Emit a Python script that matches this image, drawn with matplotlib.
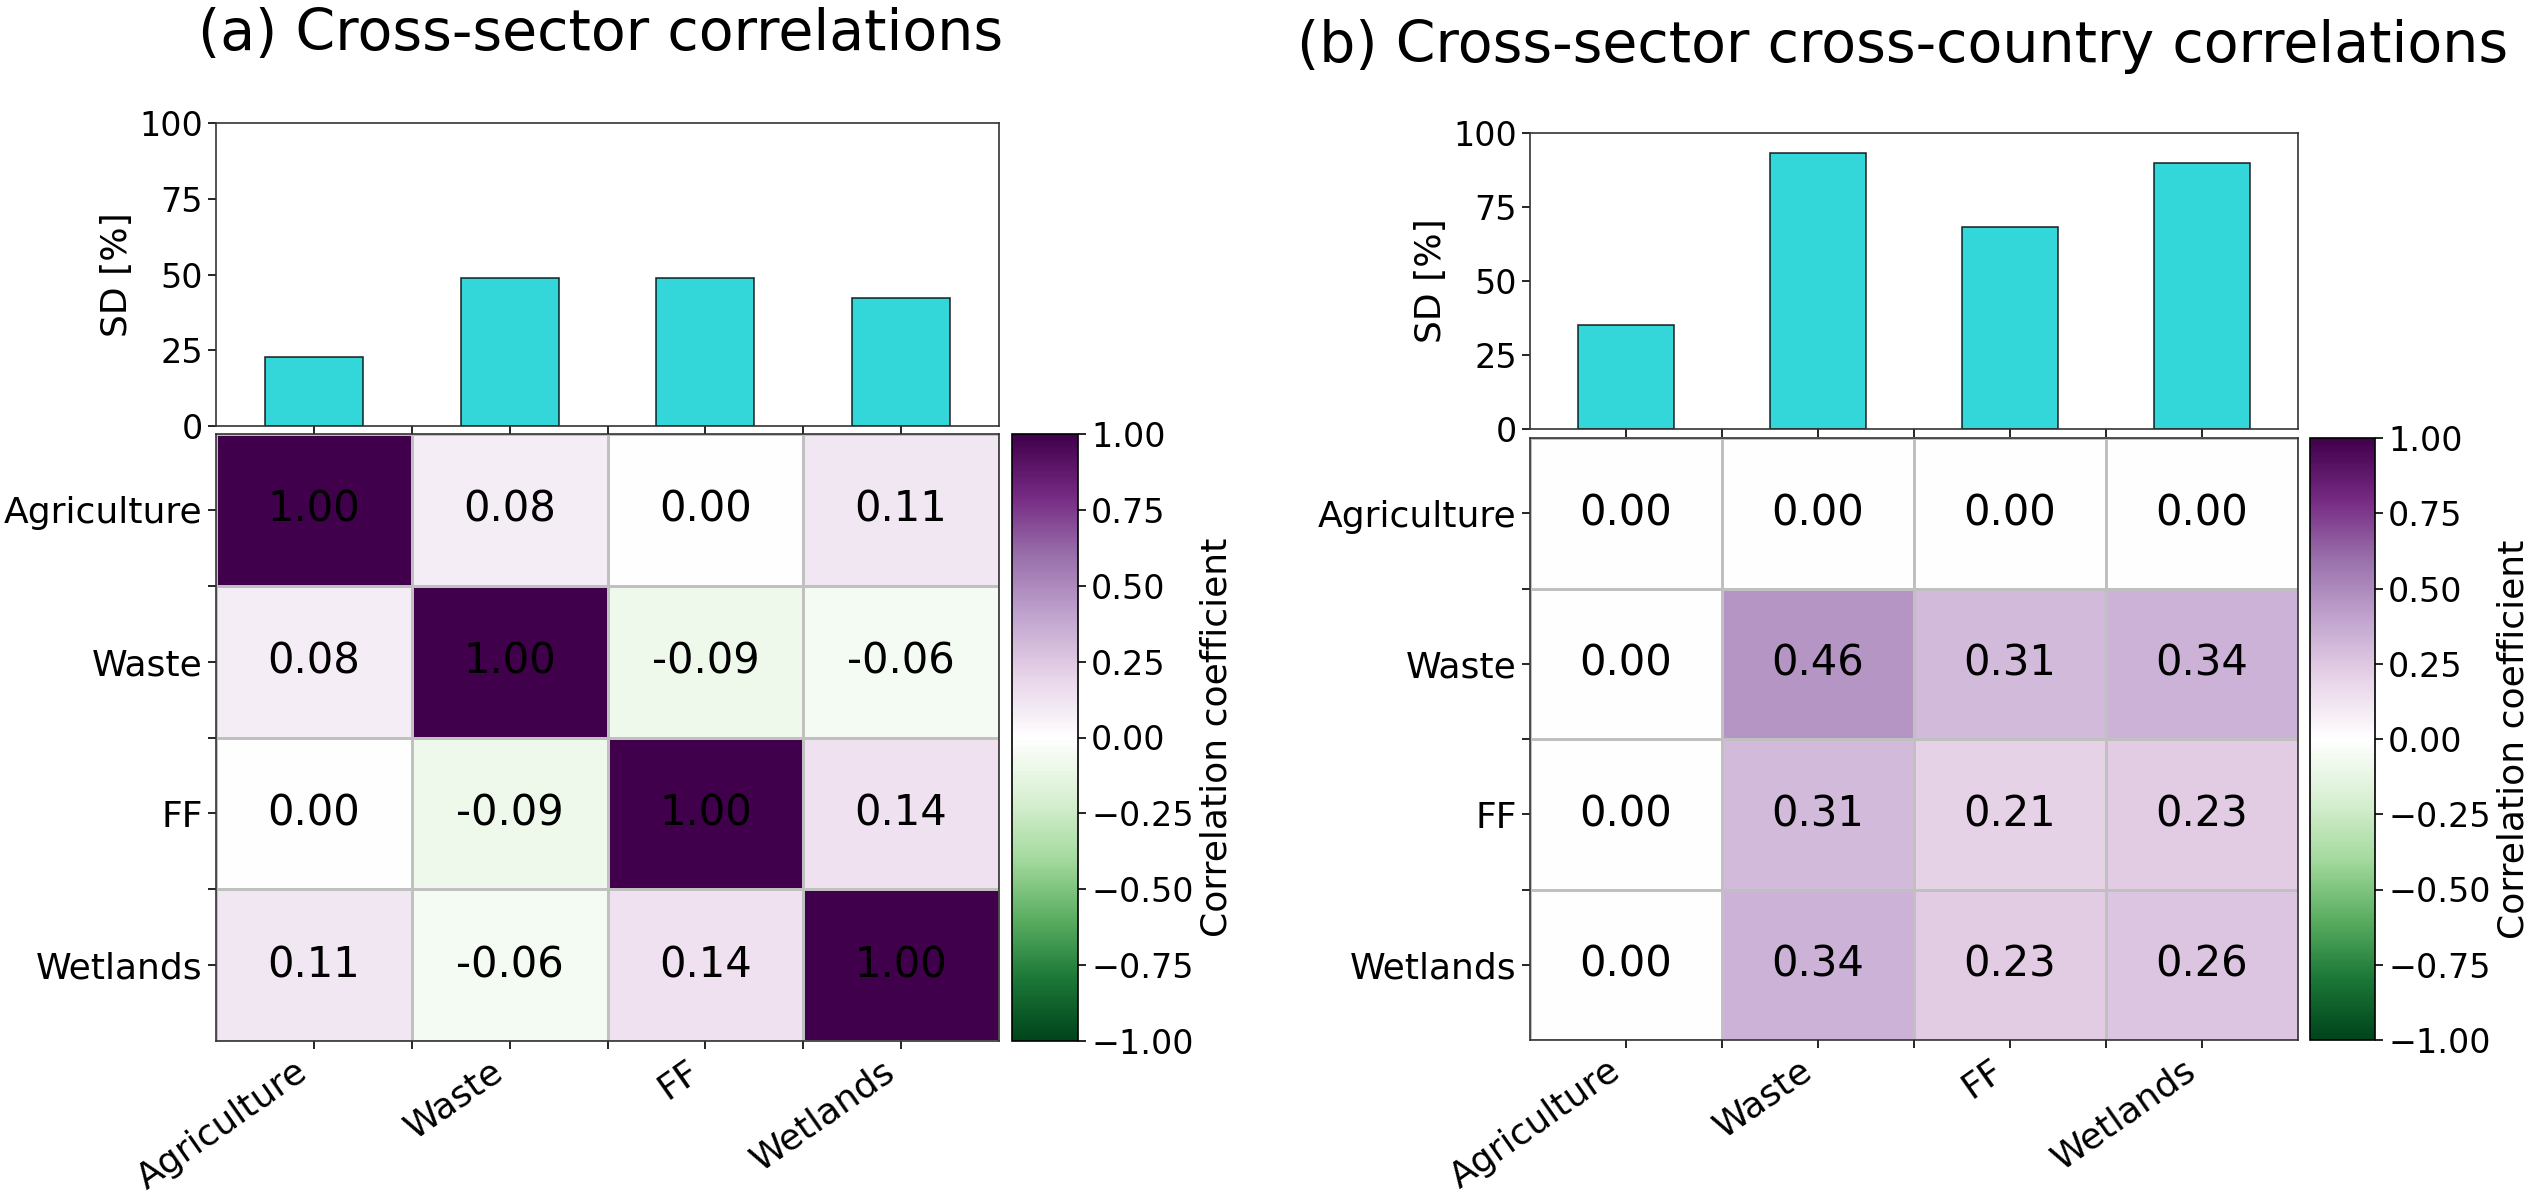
import matplotlib
matplotlib.use("Agg")

import matplotlib.pyplot as plt
import numpy as np
from matplotlib.colors import LinearSegmentedColormap

sectors = ["Agriculture", "Waste", "FF", "Wetlands"]

# SD per sector [%]
sd_within = [22.8, 49.0, 48.7, 42.1]
sd_cross = [35.2, 93.4, 68.3, 89.7]

# correlation matrices
corr_within = np.array([
    [1.00, 0.08, 0.00, 0.11],
    [0.08, 1.00, -0.09, -0.06],
    [0.00, -0.09, 1.00, 0.14],
    [0.11, -0.06, 0.14, 1.00],
])
corr_cross = np.array([
    [0.00, 0.00, 0.00, 0.00],
    [0.00, 0.46, 0.31, 0.34],
    [0.00, 0.31, 0.21, 0.23],
    [0.00, 0.34, 0.23, 0.26],
])

titles = ["(a) Cross-sector correlations", "(b) Cross-sector cross-country correlations"]

plt.rcParams["font.family"] = ["DejaVu Sans"]

# PRGn reversed, with a pure white centre
base = plt.get_cmap("PRGn_r")(np.linspace(0, 1, 11))
base[5] = [1, 1, 1, 1]
cmap = LinearSegmentedColormap.from_list("prgn_white", base)

W, H = 2533, 1196
fig = plt.figure(figsize=(W / 100, H / 100), dpi=100)


def px(left, top, right, bottom):
    """pixel box -> figure fraction rect"""
    return [left / W, 1 - bottom / H, (right - left) / W, (bottom - top) / H]


panels = [
    dict(bar=px(216, 123, 999, 426), heat=px(216, 434, 999, 1041), cbar=px(1012, 434, 1078, 1041),
         title_xy=(0.237, 1 - 50 / H)),
    dict(bar=px(1530, 133, 2298, 429), heat=px(1530, 438, 2298, 1040), cbar=px(2310, 438, 2375, 1040),
         title_xy=(0.751, 1 - 62 / H)),
]

n = len(sectors)
centers = np.arange(n) + 0.5
tick_fs = 24
heat_tick_fs = 26
label_fs = 26

for p, sd, corr, title in zip(panels, [sd_within, sd_cross], [corr_within, corr_cross], titles):
    # bar plot of SD on top
    ax_bar = fig.add_axes(p["bar"])
    ax_bar.bar(centers, sd, width=0.5, color="darkturquoise", alpha=0.8, edgecolor="black", linewidth=1.2)
    ax_bar.set_xlim(0, n)
    ax_bar.set_ylim(0, 100)
    ax_bar.set_yticks([0, 25, 50, 75, 100])
    ax_bar.set_xticks(np.arange(0.5, n, 0.5))
    ax_bar.set_xticklabels([])
    ax_bar.set_ylabel("SD [%]", fontsize=label_fs)
    ax_bar.tick_params(labelsize=tick_fs, length=6, width=1.2)
    for s in ax_bar.spines.values():
        s.set_linewidth(1.2)
        s.set_color("#333333")

    # correlation heatmap
    ax = fig.add_axes(p["heat"])
    mesh = ax.pcolormesh(corr, cmap=cmap, vmin=-1, vmax=1, edgecolors="silver", linewidth=1)
    ax.set_xlim(0, n)
    ax.set_ylim(n, 0)
    for i in range(n):
        for j in range(n):
            ax.text(j + 0.5, i + 0.5, f"{corr[i, j]:.2f}", ha="center", va="center", fontsize=30, color="black")
    ax.set_xticks(centers)
    ax.set_xticklabels(sectors, rotation=35, ha="right")
    ax.set_yticks(centers)
    ax.set_yticklabels(sectors)
    ax.set_xticks(np.arange(1, n), minor=True)
    ax.set_yticks(np.arange(1, n), minor=True)
    ax.tick_params(labelsize=heat_tick_fs, length=6, width=1.2)
    ax.tick_params(which="minor", length=6, width=1.2)
    for s in ax.spines.values():
        s.set_linewidth(1.2)
        s.set_color("#333333")

    cax = fig.add_axes(p["cbar"])
    cb = fig.colorbar(mesh, cax=cax, ticks=np.arange(-1, 1.01, 0.25))
    cb.ax.tick_params(labelsize=tick_fs, length=6, width=1.2)
    cb.set_label("Correlation coefficient", fontsize=label_fs)
    cb.outline.set_linewidth(1.2)

    fig.text(p["title_xy"][0], p["title_xy"][1], title, ha="center", va="baseline", fontsize=41)

fig.savefig("out.png", dpi=100)
